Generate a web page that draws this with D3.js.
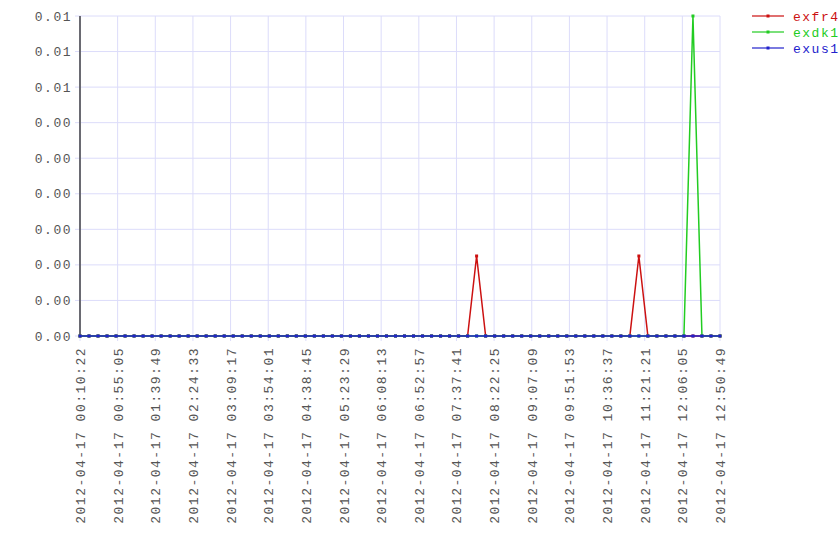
<!DOCTYPE html>
<html>
<head>
<meta charset="utf-8">
<script src="https://cdn.jsdelivr.net/npm/d3@7"></script>
<style>
  html, body { margin: 0; padding: 0; background: #fff; }
  svg { display: block; }
  text { font-family: "Liberation Mono", "DejaVu Sans Mono", monospace; font-size: 13px; letter-spacing: 1.5px; fill: #555; }
</style>
</head>
<body>
<svg id="chart" width="840" height="560"></svg>
<script>
// ---- data ----
const day = "2012-04-17";
const sampleTimes = [
  "00:10:22","00:21:04","00:31:47","00:42:29","00:53:12","01:03:55","01:14:37","01:25:20",
  "01:36:03","01:46:45","01:57:28","02:08:10","02:18:53","02:29:36","02:40:18","02:51:01",
  "03:01:44","03:12:26","03:23:09","03:33:52","03:44:34","03:55:17","04:05:59","04:16:42",
  "04:27:25","04:38:07","04:48:50","04:59:33","05:10:15","05:20:58","05:31:41","05:42:23",
  "05:53:06","06:03:48","06:14:31","06:25:14","06:35:56","06:46:39","06:57:22","07:08:04",
  "07:18:47","07:29:29","07:40:12","07:50:55","08:01:37","08:12:20","08:23:03","08:33:45",
  "08:44:28","08:55:11","09:05:53","09:16:36","09:27:18","09:38:01","09:48:44","09:59:26",
  "10:10:09","10:20:52","10:31:34","10:42:17","10:53:00","11:03:42","11:14:25","11:25:07",
  "11:35:50","11:46:33","11:57:15","12:07:58","12:18:41","12:29:23","12:40:06","12:50:49"
];
const exfr4 = [
  0,0,0,0,0,0,0,0, 0,0,0,0,0,0,0,0, 0,0,0,0,0,0,0,0, 0,0,0,0,0,0,0,0,
  0,0,0,0,0,0,0,0, 0,0,0,0,0.00175,0,0,0, 0,0,0,0,0,0,0,0, 0,0,0,0,0,0,0.00175,0,
  0,0,0,0,0,0,0,0
];
const exdk1 = [
  0,0,0,0,0,0,0,0, 0,0,0,0,0,0,0,0, 0,0,0,0,0,0,0,0, 0,0,0,0,0,0,0,0,
  0,0,0,0,0,0,0,0, 0,0,0,0,0,0,0,0, 0,0,0,0,0,0,0,0, 0,0,0,0,0,0,0,0,
  0,0,0,0,0.007,0,0,0
];
const exus1 = [
  0,0,0,0,0,0,0,0, 0,0,0,0,0,0,0,0, 0,0,0,0,0,0,0,0, 0,0,0,0,0,0,0,0,
  0,0,0,0,0,0,0,0, 0,0,0,0,0,0,0,0, 0,0,0,0,0,0,0,0, 0,0,0,0,0,0,0,0,
  0,0,0,0,0,0,0,0
];
const seriesNames = ["exfr4", "exdk1", "exus1"];
const seriesColors = ["#cc1111", "#22cc22", "#2222cc"];
const xTickLabels = [
  "00:10:22","00:55:05","01:39:49","02:24:33","03:09:17","03:54:01","04:38:45","05:23:29",
  "06:08:13","06:52:57","07:37:41","08:22:25","09:07:09","09:51:53","10:36:37","11:21:21",
  "12:06:05","12:50:49"
];
const yMax = 0.007;
const yTickCount = 10;

// ---- chart ----
const svg = d3.select("#chart");
const margin = { left: 80, right: 120, top: 16, bottom: 224 };
const W = 840, H = 560;
const parse = d3.timeParse("%Y-%m-%d %H:%M:%S");
const times = sampleTimes.map(t => parse(day + " " + t));

const x = d3.scaleTime()
  .domain([times[0], times[times.length - 1]])
  .range([margin.left, W - margin.right]);
const y = d3.scaleLinear()
  .domain([0, yMax])
  .range([H - margin.bottom, margin.top]);

const yTicks = d3.range(yTickCount).map(i => yMax * i / (yTickCount - 1));
const xTicks = xTickLabels.map(t => parse(day + " " + t));
const fmtY = d3.format(".2f");

// grid
const grid = svg.append("g");
grid.selectAll("line.h").data(yTicks).join("line")
  .attr("x1", margin.left - 5).attr("x2", W - margin.right)
  .attr("y1", d => y(d)).attr("y2", d => y(d))
  .attr("stroke", "#dcdcfa").attr("stroke-width", 1);
grid.selectAll("line.v").data(xTicks).join("line")
  .attr("x1", d => x(d)).attr("x2", d => x(d))
  .attr("y1", margin.top).attr("y2", H - margin.bottom + 5)
  .attr("stroke", "#dcdcfa").attr("stroke-width", 1);

// y axis line
svg.append("line")
  .attr("x1", margin.left).attr("x2", margin.left)
  .attr("y1", margin.top).attr("y2", H - margin.bottom)
  .attr("stroke", "#6a6a72").attr("stroke-width", 2);

// y labels
svg.append("g").selectAll("text").data(yTicks).join("text")
  .attr("x", 72).attr("y", d => y(d)).attr("dy", "0.35em")
  .attr("text-anchor", "end")
  .text(d => fmtY(d));

// x labels
svg.append("g").selectAll("text").data(xTicks).join("text")
  .attr("transform", d => `translate(${x(d) + 5},347) rotate(-90)`)
  .attr("text-anchor", "end")
  .text((d, i) => day + " " + xTickLabels[i]);

// series
const allSeries = [exfr4, exdk1, exus1];
const line = d3.line().x((d, i) => x(times[i])).y(d => y(d));
allSeries.forEach((vals, si) => {
  const g = svg.append("g");
  g.append("path").datum(vals)
    .attr("d", line)
    .attr("fill", "none")
    .attr("stroke", seriesColors[si])
    .attr("stroke-width", 1.5);
  g.selectAll("rect").data(vals).join("rect")
    .attr("x", (d, i) => x(times[i]) - 1.5)
    .attr("y", d => y(d) - 1.5)
    .attr("width", 3).attr("height", 3)
    .attr("fill", seriesColors[si]);
});

// legend
const lg = svg.append("g");
seriesNames.forEach((name, i) => {
  const yy = 16 + i * 16;
  lg.append("line")
    .attr("x1", 752).attr("x2", 784).attr("y1", yy).attr("y2", yy)
    .attr("stroke", seriesColors[i]).attr("stroke-width", 2).attr("opacity", 0.6);
  lg.append("rect")
    .attr("x", 766.5).attr("y", yy - 1.5).attr("width", 3).attr("height", 3)
    .attr("fill", seriesColors[i]);
  lg.append("text")
    .attr("x", 793).attr("y", yy).attr("dy", "0.35em")
    .style("fill", seriesColors[i])
    .text(name);
});
</script>
</body>
</html>
